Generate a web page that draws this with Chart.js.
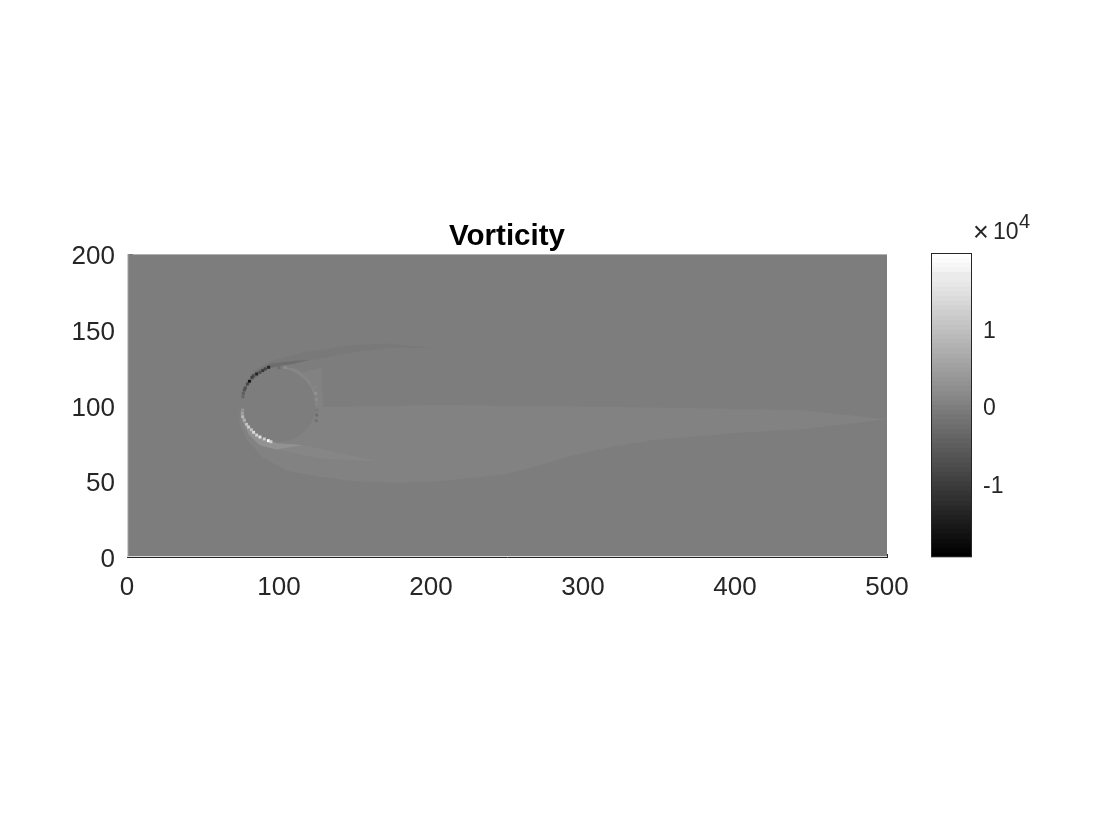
<!DOCTYPE html>
<html>
<head>
<meta charset="utf-8">
<title>Vorticity</title>
<script src="https://cdn.jsdelivr.net/npm/chart.js@4/dist/chart.umd.min.js"></script>
<style>
  html, body { margin: 0; background: #fff; }
  canvas { position: absolute; }
  #main { left: 0; top: 0; }
  #bar { left: 925px; top: 210px; }
</style>
</head>
<body>
<canvas id="main" width="1120" height="840"></canvas>
<canvas id="bar" width="115" height="376"></canvas>
<script>
// axis ticks
const xTicks = [0, 100, 200, 300, 400, 500];
const yTicks = [0, 50, 100, 150, 200];
const barTicks = [-1, 0, 1];

// field regions, values in units of 10^4
const domainX = [0, 500, 500, 0];
const domainY = [0, 0, 200, 200];
const domainVal = -0.03;

const wakeX = [74, 74, 79, 89, 105, 127, 149, 180, 206, 230, 250, 270, 293, 320, 346, 403, 447, 500, 443, 328, 206, 129, 128, 115, 100];
const wakeY = [97, 88, 77, 66, 57, 53, 50, 49, 50, 52.5, 55, 60, 67, 73, 77, 82, 84.5, 91, 97, 99, 100.3, 99, 125, 122, 100];
const wakeVal = 0.04;

const lowerBandX = [78, 89, 127, 166, 138, 116, 100, 90, 80];
const lowerBandY = [90, 73, 65, 63, 69, 74, 75, 77, 85];
const lowerBandVal = 0.12;

const lowerRimX = [75, 76, 80, 87, 98, 116, 100, 90, 80, 76];
const lowerRimY = [100, 90, 81, 74, 71, 74, 75, 77, 85, 92];
const lowerRimVal = 0.25;

const upperBandX = [76, 83, 94, 116, 149, 171, 201, 171, 149, 127, 100, 90, 78];
const upperBandY = [104, 123, 129, 135, 140, 141, 138, 138, 135, 131, 127, 124, 110];
const upperBandVal = -0.1;

const upperRimX = [78, 84, 94, 110, 120, 110, 100, 90, 82];
const upperRimY = [112, 122, 127.5, 129.5, 130, 127.5, 126, 123.5, 116];
const upperRimVal = -0.25;

const backRimX = [104, 112, 120, 125, 124, 118, 110, 104];
const backRimY = [125.5, 124, 117, 106, 106, 115, 122, 124.5];
const backRimVal = 0.09;

const discX = [124, 123.2, 120.8, 117, 112, 106.2, 100, 93.8, 88, 83, 79.2, 76.8, 76, 76.8, 79.2, 83, 88, 93.8, 100, 106.2, 112, 117, 120.8, 123.2];
const discY = [100, 106.2, 112, 117, 120.8, 123.2, 124, 123.2, 120.8, 117, 112, 106.2, 100, 93.8, 88, 83, 79.2, 76.8, 76, 76.8, 79.2, 83, 88, 93.8];
const discVal = -0.02;

// one pixel bright rows along the domain edges
const topEdgeX = [4, 500, 500, 4];
const topEdgeY = [199.4, 199.4, 200, 200];
const topEdgeVal = 0.8;
const leftEdgeX = [0, 0.8, 0.8, 0];
const leftEdgeY = [0, 0, 200, 200];
const leftEdgeVal = 1.3;
const bottomEdgeX = [0, 500, 500, 0];
const bottomEdgeY = [0, 0, 0.7, 0.7];
const bottomEdgeVal = 1.4;

// strong cells on the cylinder wall
const wallX = [93.2, 91, 89.3, 87.5, 85.3, 83.1, 82.2, 80.5, 79.2, 77.8, 77.2, 76.5, 76.3,
  76.1, 75.9, 76.1, 77.2, 78.7, 80, 81.8, 83.3, 85.3, 87.5, 90.3, 93, 94.7,
  123.7, 124.1, 124.5, 124.7, 124.8, 124.8, 124.5, 100, 104];
const wallY = [125.2, 124.1, 123, 121.9, 120.8, 119.7, 118.6, 116, 114.2, 111.6, 110.2, 108, 105.8,
  97, 94.9, 92.6, 90.4, 87.6, 85.8, 84, 82.3, 80.5, 79.2, 77.9, 76.8, 76.1,
  112, 108, 104, 101, 97, 93.7, 90, 125, 125];
const wallVal = [-1.4, -0.9, -1.1, -0.8, -1.4, -0.8, -1.0, -1.7, -0.9, -0.8, -0.7, -0.5, -0.4,
  0.35, 0.5, 0.9, 0.8, 1.0, 1.2, 1.0, 1.4, 1.3, 1.6, 1.2, 1.9, 1.2,
  0.1, 0.25, 0.2, 0.1, -0.1, -0.3, -0.2, -0.3, 0.2];

// colorbar levels, bottom of each band
const barLevels = [-1.96, -1.90, -1.84, -1.78, -1.72, -1.65, -1.59, -1.53, -1.47, -1.41, -1.35, -1.29, -1.23, -1.16, -1.10, -1.04,
  -0.98, -0.92, -0.86, -0.80, -0.74, -0.67, -0.61, -0.55, -0.49, -0.43, -0.37, -0.31, -0.25, -0.18, -0.12, -0.06,
  0.00, 0.06, 0.12, 0.18, 0.25, 0.31, 0.37, 0.43, 0.49, 0.55, 0.61, 0.67, 0.74, 0.80, 0.86, 0.92,
  0.98, 1.04, 1.10, 1.16, 1.23, 1.29, 1.35, 1.41, 1.47, 1.53, 1.59, 1.65, 1.72, 1.78, 1.84, 1.90];
const barMin = -1.96;
const barMax = 1.96;

const textColor = '#262626';

// MATLAB gray(64) lookup
function gray(v) {
  let i = Math.round((v - barMin) / (barMax - barMin) * 63);
  i = Math.max(0, Math.min(63, i));
  const g = Math.round(i * 255 / 63);
  return `rgb(${g},${g},${g})`;
}

function region(xs, ys, val) {
  return {
    data: xs.map((x, i) => ({ x: x, y: ys[i] })),
    showLine: true,
    fill: 'shape',
    backgroundColor: gray(val),
    borderWidth: 0,
    pointRadius: 0,
    tension: 0
  };
}

const regions = [
  region(domainX, domainY, domainVal),
  region(wakeX, wakeY, wakeVal),
  region(lowerBandX, lowerBandY, lowerBandVal),
  region(lowerRimX, lowerRimY, lowerRimVal),
  region(upperBandX, upperBandY, upperBandVal),
  region(upperRimX, upperRimY, upperRimVal),
  region(backRimX, backRimY, backRimVal),
  region(discX, discY, discVal),
  region(topEdgeX, topEdgeY, topEdgeVal),
  region(leftEdgeX, leftEdgeY, leftEdgeVal),
  region(bottomEdgeX, bottomEdgeY, bottomEdgeVal)
];

const wallCells = {
  data: wallX.map((x, i) => ({ x: x, y: wallY[i] })),
  showLine: false,
  pointStyle: 'rect',
  pointRadius: 2.1,
  pointBorderWidth: 0,
  pointBackgroundColor: wallVal.map(gray)
};

// chart.js paints low order last, so later regions end up on top
const datasets = regions.concat([wallCells]);
datasets.forEach((d, i) => { d.order = datasets.length - i; });

// matlab sets its y labels a little below the tick
function nudgeLabels(id, dy) {
  return {
    id: 'nudge' + id,
    beforeDraw(chart) {
      chart.scales.y.getLabelItems().forEach(item => {
        if (!item.nudged) {
          item.options.translation[1] += dy;
          item.nudged = true;
        }
      });
    }
  };
}

new Chart(document.getElementById('main'), {
  type: 'scatter',
  data: { datasets: datasets },
  plugins: [nudgeLabels('Main', 3)],
  options: {
    responsive: false,
    animation: false,
    devicePixelRatio: 1,
    layout: { padding: { left: 67, right: 233, top: 222, bottom: 233 } },
    plugins: {
      legend: { display: false },
      tooltip: { enabled: false },
      title: {
        display: true,
        text: 'Vorticity',
        fullSize: false,
        color: '#000',
        font: { family: 'Liberation Sans', size: 29.5, weight: 'bold', lineHeight: 1 },
        padding: { top: 0, bottom: 2.5 }
      }
    },
    scales: {
      x: {
        type: 'linear',
        min: 0,
        max: 500,
        afterBuildTicks: s => { s.ticks = xTicks.map(v => ({ value: v })); },
        afterFit: s => { s.height = 50; },
        border: { color: textColor, width: 1 },
        grid: { drawOnChartArea: false, tickLength: -3, tickColor: textColor },
        ticks: {
          color: textColor,
          padding: 18,
          maxRotation: 0,
          autoSkip: false,
          font: { family: 'Liberation Sans', size: 26 }
        }
      },
      y: {
        type: 'linear',
        min: 0,
        max: 200,
        afterBuildTicks: s => { s.ticks = yTicks.map(v => ({ value: v })); },
        afterFit: s => { s.width = 60; },
        border: { color: textColor, width: 1 },
        grid: { drawOnChartArea: false, tickLength: -3, tickColor: textColor },
        ticks: {
          color: textColor,
          padding: 15,
          autoSkip: false,
          font: { family: 'Liberation Sans', size: 26 }
        }
      }
    }
  }
});

// frame round the colorbar and the exponent above it
const barDecor = {
  id: 'barDecor',
  afterDraw(chart) {
    const ctx = chart.ctx;
    const a = chart.chartArea;
    ctx.save();
    ctx.strokeStyle = textColor;
    ctx.lineWidth = 1;
    ctx.strokeRect(a.left + 0.5, a.top + 0.5, a.right - a.left - 1, a.bottom - a.top - 1);
    ctx.fillStyle = textColor;
    ctx.textBaseline = 'alphabetic';
    ctx.font = '27px "Liberation Sans"';
    ctx.fillText('\u00d7', 48, 31);
    ctx.font = '23px "Liberation Sans"';
    ctx.fillText('10', 68, 29);
    ctx.font = '20px "Liberation Sans"';
    ctx.fillText('4', 94, 18);
    ctx.restore();
  }
};

new Chart(document.getElementById('bar'), {
  type: 'bar',
  data: {
    labels: [''],
    datasets: barLevels.map((lo, i) => ({
      data: [[lo, barMax]],
      backgroundColor: gray(lo + 0.03),
      borderWidth: 0,
      barPercentage: 1,
      categoryPercentage: 1,
      grouped: false,
      order: barLevels.length - i
    }))
  },
  plugins: [barDecor, nudgeLabels('Bar', 4)],
  options: {
    responsive: false,
    animation: false,
    devicePixelRatio: 1,
    layout: { padding: { left: 6, right: 35, top: 43, bottom: 0 } },
    plugins: { legend: { display: false }, tooltip: { enabled: false } },
    scales: {
      x: { display: false },
      y: {
        position: 'right',
        min: barMin,
        max: barMax,
        afterBuildTicks: s => { s.ticks = barTicks.map(v => ({ value: v })); },
        afterFit: s => { s.width = 33; },
        border: { display: false },
        grid: { drawOnChartArea: false, tickLength: -4, tickColor: textColor },
        ticks: {
          color: textColor,
          padding: 15,
          autoSkip: false,
          font: { family: 'Liberation Sans', size: 23 }
        }
      }
    }
  }
});
</script>
</body>
</html>
